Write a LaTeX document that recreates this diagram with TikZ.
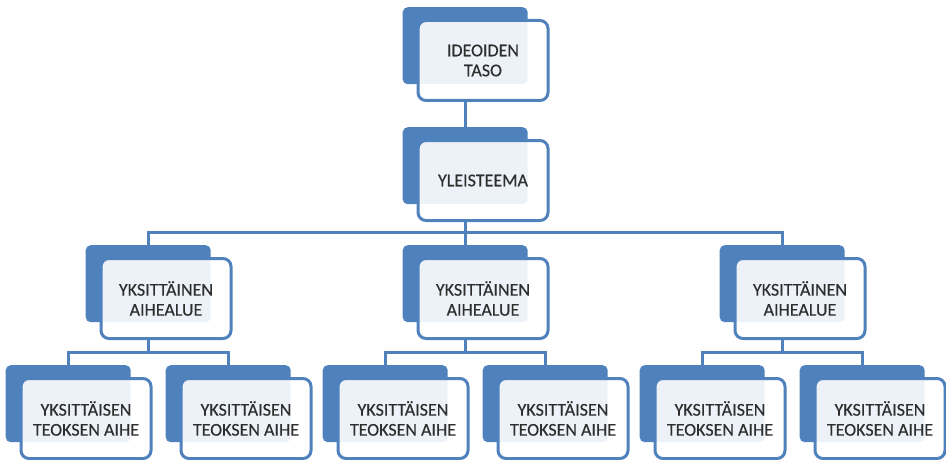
\documentclass[tikz,border=0pt]{standalone}
\usepackage{fontspec}
\setmainfont{Carlito}
\newfontfamily\boxfont{Carlito}[FakeBold=0.35]
\usetikzlibrary{backgrounds}
\definecolor{sablue}{HTML}{4F81BD}
\definecolor{satext}{HTML}{2E2E2E}
\tikzset{
 backbox/.style={fill=sablue, draw=none, rounded corners=5pt, minimum width=125pt, minimum height=77pt, inner sep=0pt, anchor=north west},
 frontbox/.style={fill=white, fill opacity=0.9, text opacity=1, draw=sablue, draw opacity=1, line width=3pt, rounded corners=8pt, minimum width=130pt, minimum height=80pt, inner sep=0pt, anchor=north west, align=center, text=satext, font=\boxfont\fontsize{18}{20}\selectfont},
 conn/.style={draw=sablue, line width=3pt}
}
\newcommand\smbox[4]{%
 \node[backbox] (#1b) at (#2-62.5,-#3) {};
 \node[frontbox] (#1) at (#2-48.5,-#3-12) {#4};
}
\begin{document}
\begin{tikzpicture}[x=1pt,y=1pt]
\useasboundingbox (0,0) rectangle (946,-460);
\smbox{top}{465}{7}{IDEOIDEN\\TASO}
\smbox{theme}{465}{127}{YLEISTEEMA}
\smbox{a1}{148}{245}{YKSITTÄINEN\\AIHEALUE}
\smbox{a2}{465}{245}{YKSITTÄINEN\\AIHEALUE}
\smbox{a3}{782}{245}{YKSITTÄINEN\\AIHEALUE}
\smbox{l1}{68}{365}{YKSITTÄISEN\\TEOKSEN AIHE}
\smbox{l2}{228}{365}{YKSITTÄISEN\\TEOKSEN AIHE}
\smbox{l3}{385}{365}{YKSITTÄISEN\\TEOKSEN AIHE}
\smbox{l4}{545}{365}{YKSITTÄISEN\\TEOKSEN AIHE}
\smbox{l5}{702}{365}{YKSITTÄISEN\\TEOKSEN AIHE}
\smbox{l6}{862}{365}{YKSITTÄISEN\\TEOKSEN AIHE}
\coordinate (h1) at (0,-232);
\coordinate (h2) at (0,-352);
\begin{pgfonlayer}{background}
\draw[conn] (top.south -| topb.center) -- (themeb.north);
\draw[conn] (theme.south -| themeb.center) -- (themeb.center |- h1);
\draw[conn] (a1b.north) |- (a3b.center |- h1) -- (a3b.north);
\draw[conn] (a2b.north) -- (a2b.center |- h1);
\draw[conn] (a1.south -| a1b.center) -- (a1b.center |- h2);
\draw[conn] (l1b.north) |- (l2b.center |- h2) -- (l2b.north);
\draw[conn] (a2.south -| a2b.center) -- (a2b.center |- h2);
\draw[conn] (l3b.north) |- (l4b.center |- h2) -- (l4b.north);
\draw[conn] (a3.south -| a3b.center) -- (a3b.center |- h2);
\draw[conn] (l5b.north) |- (l6b.center |- h2) -- (l6b.north);
\end{pgfonlayer}
\end{tikzpicture}
\end{document}
